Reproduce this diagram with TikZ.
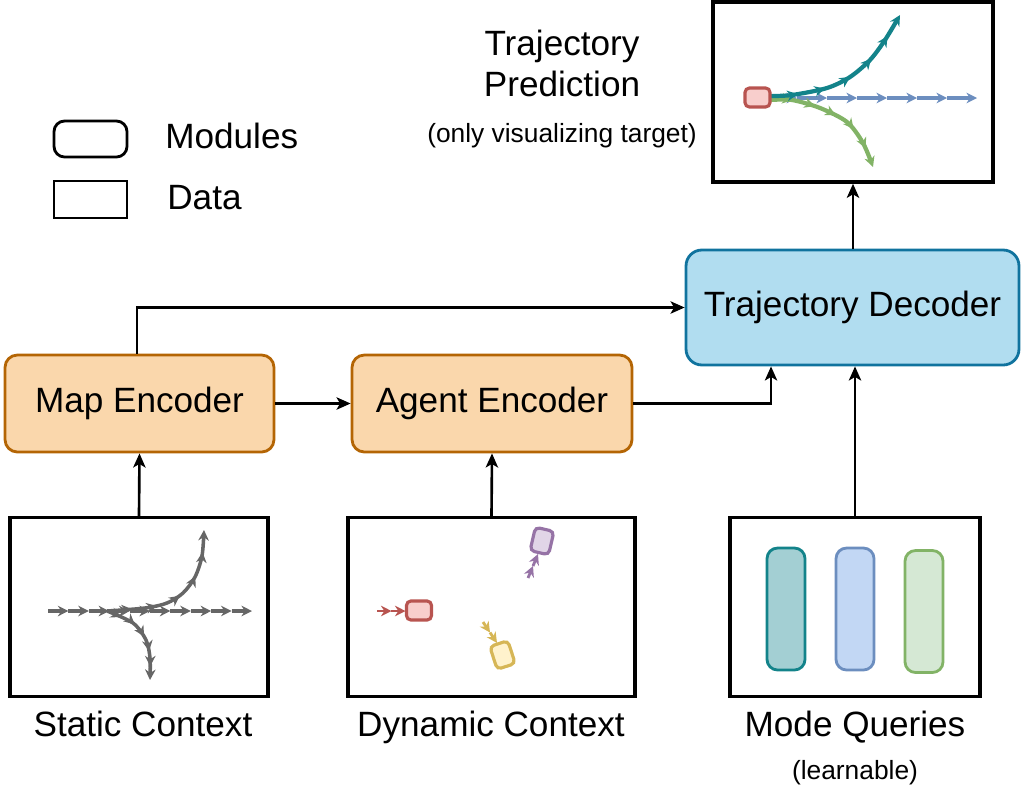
\documentclass[tikz,border=0pt]{standalone}
\usepackage{fontspec}
\setmainfont{Liberation Sans}
\usetikzlibrary{arrows.meta,positioning,decorations.markings}
\definecolor{encfill}{HTML}{FAD7AC}
\definecolor{encline}{HTML}{B46504}
\definecolor{decfill}{HTML}{B1DDF0}
\definecolor{decline}{HTML}{10739E}
\definecolor{tealline}{HTML}{13838A}
\definecolor{tealfill}{HTML}{A3CFD3}
\definecolor{blueline}{HTML}{6C8EBF}
\definecolor{bluefill}{HTML}{C2D7F4}
\definecolor{greenline}{HTML}{82B366}
\definecolor{greenfill}{HTML}{D5E8D4}
\definecolor{redline}{HTML}{B85450}
\definecolor{redfill}{HTML}{F8CECC}
\definecolor{purpleline}{HTML}{9673A6}
\definecolor{purplefill}{HTML}{E1D5E7}
\definecolor{yellowline}{HTML}{D6B656}
\definecolor{yellowfill}{HTML}{FFF2CC}
\definecolor{roadgray}{HTML}{666666}

\begin{document}
\begin{tikzpicture}[x=0.02cm,y=-0.02cm,
	txt/.style={font=\fontsize{20}{24}\selectfont},
	smalltxt/.style={font=\fontsize{15}{18}\selectfont},
	encbox/.style={txt,draw=encline,fill=encfill,line width=1.6pt,rounded corners=7pt,minimum height=1.94cm},
	decbox/.style={txt,draw=decline,fill=decfill,line width=1.6pt,rounded corners=9pt,minimum width=6.66cm,minimum height=2.3cm},
	databox/.style={draw,line width=2pt,minimum height=3.58cm},
	conn/.style={line width=1.5pt,-{Stealth[length=8pt,width=7pt,inset=2pt]}},
	tip/.style={line width=2pt,-{Stealth[length=6pt,width=6pt]}},
	arrowed/.style={postaction={decorate},decoration={markings,mark=between positions 0.17 and 0.86 step 0.17 with {\arrow{Stealth[length=6pt,width=6pt]}}}},
	car/.style={draw=#1line,fill=#1fill,line width=1.8pt,rounded corners=2.5pt,minimum width=0.38cm,minimum height=0.48cm,inner sep=0pt},
	query/.style={draw=#1line,fill=#1fill,line width=1.6pt,rounded corners=6pt,minimum width=0.76cm,minimum height=2.44cm,inner sep=0pt}]
	\useasboundingbox (0,0) rectangle (1023,795);
	% Legend
	\node[draw,line width=1.6pt,rounded corners=6pt,minimum width=1.46cm,minimum height=0.72cm] (legmod) at (90.5,139) {};
	\node[draw,line width=1.6pt,minimum width=1.46cm,minimum height=0.74cm] (legdata) at (90.5,199.5) {};
	\node[txt,anchor=base west,inner sep=0pt] (legmodtxt) at (165,148) {Modules};
	\node[txt,anchor=base west,inner sep=0pt] (legdatatxt) at (167,209) {Data};
	\node[txt,anchor=base,inner sep=0pt] (predtitle) at (562,55) {Trajectory};
	\node[txt,anchor=base,inner sep=0pt] (predtitleb) at (562,96) {Prediction};
	\node[smalltxt,anchor=base,inner sep=0pt] (prednote) at (562,142) {(only visualizing target)};
	% Modules
	\node[encbox,minimum width=5.38cm] (map) at (139.5,403.5) {Map Encoder};
	\node[encbox,minimum width=5.6cm] (agent) at (492,403.5) {Agent Encoder};
	\node[decbox] (dec) at (852.5,307.5) {Trajectory Decoder};
	% Data
	\node[databox,minimum width=5.16cm] (static) at (139,607) {};
	\node[databox,minimum width=5.74cm] (dyn) at (491.5,607) {};
	\node[databox,minimum width=5cm] (mode) at (855,607) {};
	\node[databox,minimum width=5.6cm,minimum height=3.6cm] (pred) at (853,92) {};
	\node[txt,anchor=base,inner sep=0pt] (statictxt) at (143,736) {Static Context};
	\node[txt,anchor=base,inner sep=0pt] (dyntxt) at (491,736) {Dynamic Context};
	\node[txt,anchor=base,inner sep=0pt] (modetxt) at (855,736) {Mode Queries};
	\node[smalltxt,anchor=base,inner sep=0pt] (modenote) at (855,779) {(learnable)};
	% Connectors
	\draw[conn] (static.north) -- (map.south);
	\draw[conn] (dyn.north) -- (agent.south);
	\draw[conn] (map) -- (agent);
	\draw[conn] (agent.east) -| ([xshift=-1.63cm]dec.south);
	\draw[conn] ([xshift=-0.05cm]map.north) |- (dec.west);
	\draw[conn] (mode.north) -- (mode.north |- dec.south);
	\draw[conn] (dec.north -| pred.south) -- (pred.south);
	% Static context: lanes
	\foreach \i in {0,...,9}
	\draw[tip,roadgray] (48+\i*20.4,611) -- ++(20.4,0);
	\draw[tip,roadgray,arrowed] plot[smooth] coordinates {(107,611) (145,608) (167,603) (183,593) (195,577) (202,556) (204,530)};
	\draw[tip,roadgray,arrowed] plot[smooth] coordinates {(107,611) (133,623) (146,640) (150,658) (150,680)};
	% Dynamic context: agents
	\node[car=red,minimum width=0.5cm,minimum height=0.38cm] (redcar) at (419,610.5) {};
	\node[car=purple,rotate=-13] (purplecar) at (542,541) {};
	\node[car=yellow,rotate=18] (yellowcar) at (502.5,655) {};
	\foreach \x in {377,391}
	\draw[tip,redline,line width=1.6pt] (\x,611) -- ++(14.5,0);
	\foreach \i in {0,1}
	\draw[tip,purpleline,line width=1.6pt] (528+\i*5,578-\i*12) -- ++(5,-12);
	\foreach \i in {0,1}
	\draw[tip,yellowline,line width=1.6pt] (483+\i*7,622+\i*10.5) -- ++(7,10.5);
	% Mode queries
	\foreach \c/\x/\y in {teal/786/609,blue/855/609,green/924/611.5}
	\node[query=\c] (q\c) at (\x,\y) {};
	% Prediction of the target
	\foreach \x in {767,797,...,947}
	\draw[tip,blueline] (\x,98) -- ++(30,0);
	\draw[tip,greenline,line width=2.4pt,arrowed] plot[smooth] coordinates {(770,100) (792,100) (820,108) (847,122) (863,143) (873,167)};
	\draw[tip,tealline,line width=2.4pt,arrowed] plot[smooth] coordinates {(770,96) (792,95) (827,88) (850,77) (870,60) (885,40) (900,15)};
	\node[car=red,minimum width=0.5cm,minimum height=0.38cm] (target) at (757.5,97.5) {};
\end{tikzpicture}
\end{document}
